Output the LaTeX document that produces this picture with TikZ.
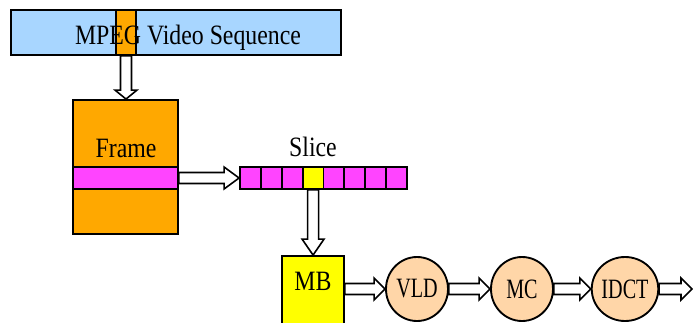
\documentclass[tikz,border=0pt]{standalone}
\usepackage{fontspec}
\setmainfont{Liberation Serif}[FakeStretch=0.85]
\newfontfamily\narrowserif{Liberation Serif}[FakeStretch=0.72]
\usetikzlibrary{fit,calc,shapes.geometric}

\definecolor{seqblue}{HTML}{A8D6FF}
\definecolor{frameorange}{HTML}{FFA800}
\definecolor{slicemag}{HTML}{FF44FF}
\definecolor{mbyellow}{HTML}{FFFF00}
\definecolor{procpeach}{HTML}{FFD6A8}

\tikzset{
  box/.style={draw=black, line width=1.4pt, inner sep=0pt, line join=miter},
  lbl/.style={font=\fontsize{21}{25}\selectfont, inner sep=0pt, anchor=base},
  proc/.style={ellipse, draw=black, line width=1.4pt, fill=procpeach,
    minimum width=46.5pt, minimum height=48pt, inner sep=0pt,
    font=\narrowserif\fontsize{21}{25}\selectfont},
  % hollow block arrow pointing right; argument = head length
  fatright/.style={draw=black, fill=white, line width=1.2pt, line join=miter,
    to path={let \p1=(\tikztostart), \p2=(\tikztotarget) in
      (\x1,{\y1+4.125pt}) -- ({\x2-#1},{\y1+4.125pt}) -- ({\x2-#1},{\y1+8.25pt})
      -- (\x2,\y1) -- ({\x2-#1},{\y1-8.25pt}) -- ({\x2-#1},{\y1-4.125pt})
      -- (\x1,{\y1-4.125pt}) -- cycle}},
  fatright/.default=8.25pt,
  % hollow block arrow pointing down; argument = head length
  fatdown/.style={draw=black, fill=white, line width=1.2pt, line join=miter,
    to path={let \p1=(\tikztostart), \p2=(\tikztotarget) in
      ({\x1-4.125pt},\y1) -- ({\x1-4.125pt},{\y2+#1}) -- ({\x1-8.25pt},{\y2+#1})
      -- (\x1,\y2) -- ({\x1+8.25pt},{\y2+#1}) -- ({\x1+4.125pt},{\y2+#1})
      -- ({\x1+4.125pt},\y1) -- cycle}},
  fatdown/.default=11.25pt
}

\begin{document}
\begin{tikzpicture}[x=0.75pt,y=-0.75pt]
\useasboundingbox (0,0) rectangle (693,322);
\clip (0,0) rectangle (693,322);

% video sequence bar with one highlighted frame
\node[box, fill=seqblue, fit={(11,10)(341,55)}] (seq) {};
\node[box, fill=frameorange, fit={(116,10)(136,55)}] (seqframe) {};
\node[lbl] (seqlabel) at (188,44) {MPEG Video Sequence};

% frame with one highlighted slice
\node[box, fill=frameorange, fit={(73,100)(178,234)}] (frame) {};
\node[box, fill=slicemag, fit={(73,167)(178,189)}] (band) {};
\node[lbl] (framelabel) at (126,157) {Frame};

% slice made of macroblocks
\foreach \i in {0,...,7}{
  \ifnum\i=3 \def\cellcol{mbyellow}\else\def\cellcol{slicemag}\fi
  \node[box, fill=\cellcol, fit={({240+20.875*\i},167)({240+20.875*(\i+1)},189)}] (c\i) {};
}
\node[lbl] (slicelabel) at (313,156) {Slice};

% macroblock
\node[box, fill=mbyellow, fit={(282,256)(344,330)}] (mb) {};
\node[lbl] (mblabel) at (313,290) {MB};

% decoding stages
\node[proc] (vld) at (417,289) {VLD};
\node[proc] (mc) at (522,289) {MC};
\node[proc] (idct) at (625,289) {IDCT};
\coordinate (out) at (692,289);

% block arrows
\draw[fatdown=6.75pt] (seqframe.south) to (frame.north);
\draw[fatright=11.25pt] (band.east) to (c0.west);
\draw[fatdown=12pt] (c3.south) to (mb.north);
\draw[fatright] (mb.east |- vld.west) to (vld.west);
\draw[fatright] (vld.east) to (mc.west);
\draw[fatright] (mc.east) to (idct.west);
\draw[fatright] (idct.east) to (out);
\end{tikzpicture}
\end{document}
